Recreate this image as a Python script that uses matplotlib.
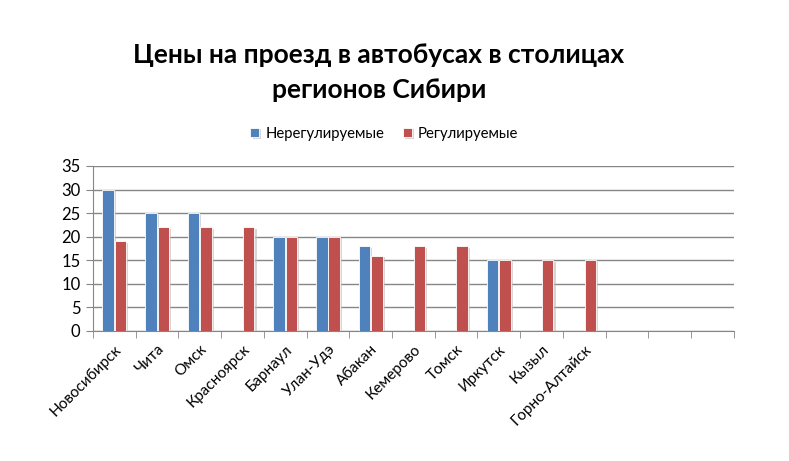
import matplotlib
matplotlib.use('Agg')
import matplotlib.pyplot as plt
import matplotlib.patheffects as pe
import numpy as np

plt.rcParams['font.family'] = ['Lato', 'DejaVu Sans']

# Данные: цены на проезд (руб.)
cities = ['Новосибирск', 'Чита', 'Омск', 'Красноярск', 'Барнаул', 'Улан-Удэ',
          'Абакан', 'Кемерово', 'Томск', 'Иркутск', 'Кызыл', 'Горно-Алтайск',
          '', '', '']
nonregulated = [30, 25, 25, np.nan, 20, 20, 18, np.nan, np.nan, 15, np.nan, np.nan,
                np.nan, np.nan, np.nan]
regulated = [19, 22, 22, 22, 20, 20, 16, 18, 18, 15, 15, 15,
             np.nan, np.nan, np.nan]
yticks = [0, 5, 10, 15, 20, 25, 30, 35]

blue = '#4f81bd'
red = '#c0504d'

fig = plt.figure(figsize=(7.89, 4.61), dpi=100)
ax = fig.add_axes([0.1179, 0.282, 0.812, 0.358])

x = np.arange(len(cities))
w = 0.27
shadow = [pe.SimplePatchShadow(offset=(1.5, -1), shadow_rgbFace='#bbbbbb', alpha=0.6), pe.Normal()]
b1 = ax.bar(x - w / 2 - 0.01, nonregulated, w, color=blue, edgecolor='white', linewidth=0.6,
            label='Нерегулируемые', zorder=3, path_effects=shadow)
b2 = ax.bar(x + w / 2 + 0.01, regulated, w, color=red, edgecolor='white', linewidth=0.6,
            label='Регулируемые', zorder=3, path_effects=shadow)

ax.set_xlim(-0.5, len(cities) - 0.5)
ax.set_ylim(0, 35)
ax.set_yticks(yticks)
ax.yaxis.grid(True, color='#868686', linewidth=1)
ax.set_axisbelow(True)
for s in ['top', 'right']:
    ax.spines[s].set_visible(False)
ax.spines['left'].set_color('#868686')
ax.spines['bottom'].set_color('#868686')
ax.tick_params(axis='y', length=5, color='#868686', labelsize=12, pad=4)

ax.set_xticks(x)
ax.set_xticklabels(cities, rotation=45, ha='right', rotation_mode='anchor', fontsize=11)
ax.tick_params(axis='x', which='major', length=0, pad=8)
ax.set_xticks(np.arange(-0.5, len(cities)), minor=True)
ax.tick_params(axis='x', which='minor', length=5, color='#868686')

fig.text(0.48, 0.843, 'Цены на проезд в автобусах в столицах\nрегионов Сибири',
         ha='center', va='center', fontsize=19, fontweight='bold', linespacing=1.55)

fig.legend(handles=[b1, b2], loc='center', bbox_to_anchor=(0.487, 0.71), ncol=2,
           frameon=False, fontsize=10.7, handlelength=0.6, handleheight=0.6,
           handletextpad=0.4, columnspacing=1.25)

plt.savefig('out.png', dpi=100)
